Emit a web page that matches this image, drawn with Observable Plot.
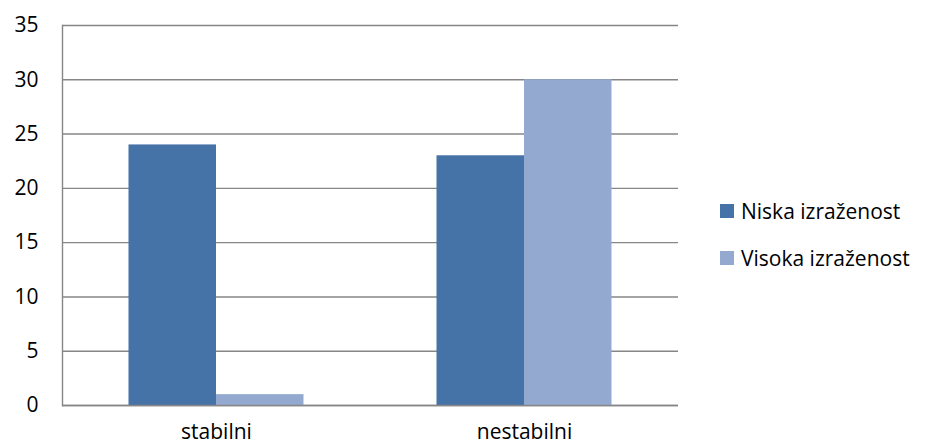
<!DOCTYPE html>
<html>
<head>
<meta charset="utf-8">
<script src="https://cdn.jsdelivr.net/npm/d3@7"></script>
<script src="https://cdn.jsdelivr.net/npm/@observablehq/plot@0.6"></script>
<style>
  html, body { margin: 0; padding: 0; background: #fff; }
  #wrap { position: relative; width: 930px; height: 448px; font-family: "Open Sans", "Noto Sans", sans-serif; }
  #legend { position: absolute; left: 720px; top: 198px; font-size: 21px; color: #000; }
  #legend .row { display: flex; align-items: center; height: 26px; margin-bottom: 21px; white-space: nowrap; }
  #legend .sw { width: 14px; height: 14px; margin-right: 7px; flex: none; }
</style>
</head>
<body>
<div id="wrap"></div>
<script>
const categories = ["stabilni", "nestabilni"];
const series = ["Niska izraženost", "Visoka izraženost"];
const niska = [24, 23];
const visoka = [1, 30];
const yTicks = [0, 5, 10, 15, 20, 25, 30, 35];
const colors = ["#4572A7", "#94A9CF"];

const data = [];
categories.forEach((c, i) => {
  data.push({cat: c, series: series[0], value: niska[i]});
  data.push({cat: c, series: series[1], value: visoka[i]});
});

const plot = Plot.plot({
  width: 930,
  height: 448,
  marginLeft: 62,
  marginRight: 252,
  marginTop: 25,
  marginBottom: 43,
  style: {fontFamily: "'Open Sans', 'Noto Sans', sans-serif", fontSize: "21px", color: "#000", background: "#fff"},
  fx: {domain: categories, padding: 0, label: null, axis: "bottom", tickSize: 0, tickPadding: 19},
  x: {domain: series, axis: null, paddingInner: 0, paddingOuter: 0.76, round: false},
  y: {domain: [0, 35], ticks: yTicks, tickSize: 0, tickPadding: 24, label: null},
  color: {domain: series, range: colors},
  marks: [
    Plot.ruleY(yTicks, {stroke: "#868686", strokeWidth: 1.4}),
    Plot.barY(data, {fx: "cat", x: "series", y: "value", fill: "series"}),
    Plot.ruleY([0], {stroke: "#868686", strokeWidth: 1.4}),
    Plot.frame({anchor: "left", facet: "super", stroke: "#868686", strokeWidth: 1.4})
  ]
});
document.getElementById("wrap").appendChild(plot);

const color = plot.scale("color");
const legend = document.createElement("div");
legend.id = "legend";
series.forEach(s => {
  const row = document.createElement("div");
  row.className = "row";
  const sw = document.createElement("div");
  sw.className = "sw";
  sw.style.background = color.apply(s);
  const t = document.createElement("span");
  t.textContent = s;
  row.appendChild(sw);
  row.appendChild(t);
  legend.appendChild(row);
});
document.getElementById("wrap").appendChild(legend);
</script>
</body>
</html>
